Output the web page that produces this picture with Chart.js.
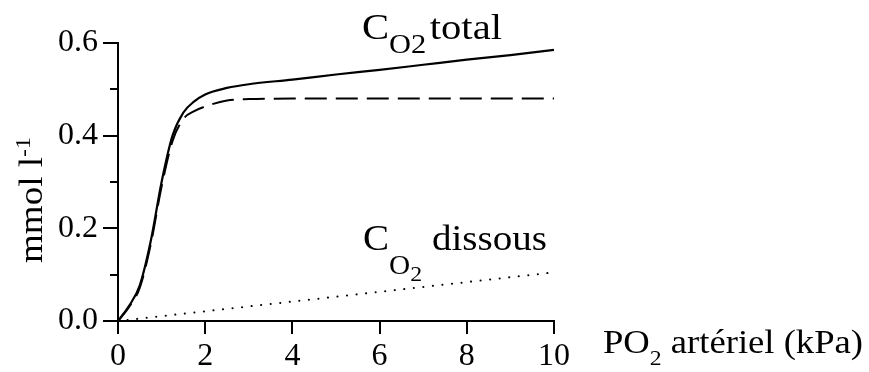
<!DOCTYPE html>
<html>
<head>
<meta charset="utf-8">
<script src="https://cdn.jsdelivr.net/npm/chart.js@4"></script>
<style>
  html, body { margin: 0; padding: 0; background: #fff; }
  #wrap { width: 869px; height: 372px; }
</style>
</head>
<body>
<div id="wrap"><canvas id="co2Chart" width="869" height="372"></canvas></div>
<script>
// données
const po2 = [0, 0.25, 0.5, 0.75, 1, 1.25, 1.5, 1.75, 2, 2.5, 3, 4, 5, 6, 7, 8, 9, 10];
const totalCO2 = [0, 0.032, 0.077, 0.172, 0.300, 0.400, 0.450, 0.474, 0.489, 0.503, 0.511, 0.521, 0.532, 0.542, 0.553, 0.564, 0.574, 0.585];
const boundCO2 = [0, 0.030, 0.072, 0.165, 0.290, 0.388, 0.436, 0.453, 0.463, 0.476, 0.479, 0.480, 0.480, 0.480, 0.480, 0.480, 0.480, 0.480];
const dissolvedPo2 = [0, 2, 4, 6, 8, 10];
const dissolvedCO2 = [0, 0.021, 0.042, 0.063, 0.084, 0.105];
const xTicks = [0, 2, 4, 6, 8, 10];
const yTicks = [0, 0.2, 0.4, 0.6];
const yMinorTicks = [0.1, 0.3, 0.5];

const FONT = '"Liberation Serif", "Times New Roman", serif';

function toPoints(xs, ys) {
    return xs.map((x, i) => ({ x: x, y: ys[i] }));
}

// texte en plusieurs morceaux (indices), étiré pour tenir dans une largeur donnée
function drawRuns(ctx, x, y, runs, target, angle) {
    ctx.save();
    let natural = 0;
    runs.forEach(r => {
        ctx.font = r.size + 'px ' + FONT;
        r.w = ctx.measureText(r.t).width;
        natural += r.w;
    });
    ctx.translate(x, y);
    if (angle) ctx.rotate(angle);
    ctx.scale(target / natural, 1);
    ctx.fillStyle = '#000';
    ctx.textBaseline = 'alphabetic';
    let cx = 0;
    runs.forEach(r => {
        ctx.font = r.size + 'px ' + FONT;
        ctx.fillText(r.t, cx, r.dy || 0);
        cx += r.w;
    });
    ctx.restore();
}

const extras = {
    id: 'extras',
    afterDraw(chart) {
        const ctx = chart.ctx;
        const y = chart.scales.y;
        // petites graduations
        ctx.save();
        ctx.strokeStyle = '#000';
        ctx.lineWidth = 2;
        yMinorTicks.forEach(v => {
            const py = Math.round(y.getPixelForValue(v));
            ctx.beginPath();
            ctx.moveTo(chart.chartArea.left - 8, py);
            ctx.lineTo(chart.chartArea.left, py);
            ctx.stroke();
        });
        ctx.restore();

        drawRuns(ctx, 362, 39, [
            { t: 'C', size: 36 },
            { t: 'O2', size: 27, dy: 14 },
            { t: '\u200Atotal', size: 36 }
        ], 140);
        drawRuns(ctx, 363, 250, [
            { t: 'C', size: 36 },
            { t: 'O', size: 27, dy: 24 },
            { t: '2', size: 22, dy: 31 },
            { t: ' dissous', size: 36 }
        ], 184);
        drawRuns(ctx, 603, 353, [
            { t: 'PO', size: 34 },
            { t: '2', size: 22, dy: 12 },
            { t: ' artériel (kPa)', size: 34 }
        ], 260);
        drawRuns(ctx, 42, 263, [
            { t: 'mmol l', size: 34 },
            { t: '-1', size: 22, dy: -12 }
        ], 126, -Math.PI / 2);
    }
};

function initChart() {
    const ctx = document.getElementById('co2Chart').getContext('2d');
    if (window.myChart) { window.myChart.destroy(); }
    window.myChart = new Chart(ctx, {
        type: 'line',
        data: {
            datasets: [
                {
                    label: 'CO2 lié',
                    data: toPoints(po2, boundCO2),
                    borderColor: '#000',
                    borderWidth: 2,
                    borderDash: [22, 9],
                    pointRadius: 0,
                    cubicInterpolationMode: 'monotone'
                },
                {
                    label: 'CO2 total',
                    data: toPoints(po2, totalCO2),
                    borderColor: '#000',
                    borderWidth: 2.2,
                    pointRadius: 0,
                    cubicInterpolationMode: 'monotone'
                },
                {
                    label: 'CO2 dissous',
                    data: toPoints(dissolvedPo2, dissolvedCO2),
                    borderColor: '#000',
                    borderWidth: 2,
                    borderDash: [0.1, 9.5],
                    borderCapStyle: 'round',
                    pointRadius: 0
                }
            ]
        },
        options: {
            responsive: false,
            animation: false,
            layout: { padding: { left: 0, top: 43, right: 315, bottom: 0 } },
            plugins: { legend: { display: false }, tooltip: { enabled: false } },
            scales: {
                x: {
                    type: 'linear',
                    min: 0,
                    max: 10,
                    afterFit: s => { s.height = 51; },
                    afterBuildTicks: s => { s.ticks = xTicks.map(v => ({ value: v })); },
                    grid: { drawOnChartArea: false, tickLength: 13, color: '#000', lineWidth: 2 },
                    border: { display: true, color: '#000', width: 2 },
                    ticks: { color: '#000', padding: 3, maxRotation: 0, font: { family: FONT, size: 32 } }
                },
                y: {
                    min: 0,
                    max: 0.6,
                    afterFit: s => { s.width = 118; },
                    afterBuildTicks: s => { s.ticks = yTicks.map(v => ({ value: v })); },
                    grid: { drawOnChartArea: false, tickLength: 15, color: '#000', lineWidth: 2 },
                    border: { display: true, color: '#000', width: 2 },
                    ticks: { color: '#000', padding: 5, font: { family: FONT, size: 32 },
                             callback: v => v.toFixed(1) }
                }
            }
        },
        plugins: [extras]
    });
}

window.onload = () => {
    initChart();
};
</script>
</body>
</html>
